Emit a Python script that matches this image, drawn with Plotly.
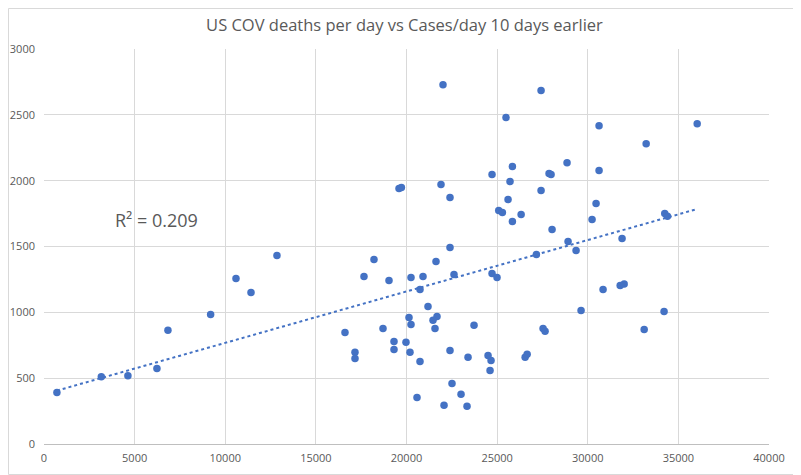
import numpy as np
import plotly.graph_objects as go

cases_10d_earlier = [712, 3162, 4630, 6231, 6838, 9194, 10592, 11420, 12853, 22014,
                     25491, 25843, 24719, 25712, 19586, 19719, 21903, 22400, 25602, 25088,
                     25290, 26324, 25843, 22400, 27424, 30624, 36038, 33223, 28858, 27864,
                     27975, 30624, 27424, 30458, 30237, 28031, 28914, 31893, 29355, 27167,
                     34249, 34397, 18206, 17654, 19034, 20248, 20911, 21628, 22621, 20745,
                     24719, 24995, 21186, 20138, 21683, 21462, 20248, 21573, 16606, 18703,
                     23725, 19310, 19972, 19310, 20193, 17158, 17158, 20745, 22400, 23394,
                     24499, 24664, 24609, 26545, 26656, 22511, 23008, 20579, 22070, 23339,
                     30844, 31788, 32009, 29631, 34211, 27534, 27645, 33113]
deaths_per_day = [392, 511, 518, 574, 863, 984, 1257, 1151, 1432, 2729,
                  2479, 2107, 2046, 1993, 1940, 1948, 1970, 1872, 1857, 1773,
                  1758, 1743, 1690, 1492, 2684, 2418, 2433, 2281, 2137, 2054,
                  2046, 2077, 1925, 1826, 1705, 1629, 1538, 1561, 1470, 1439,
                  1750, 1730, 1401, 1272, 1242, 1265, 1272, 1386, 1287, 1174,
                  1295, 1265, 1045, 961, 969, 939, 908, 878, 847, 878,
                  901, 779, 772, 718, 696, 696, 650, 627, 711, 658,
                  673, 635, 559, 658, 681, 460, 377, 354, 294, 286,
                  1174, 1204, 1216, 1014, 1007, 878, 857, 870]

title_text = "US COV deaths per day vs Cases/day 10 days earlier"
r2_text = "R² = 0.209"
x_ticks = [0, 5000, 10000, 15000, 20000, 25000, 30000, 35000, 40000]
y_ticks = [0, 500, 1000, 1500, 2000, 2500, 3000]

x = np.array(cases_10d_earlier, dtype=float)
y = np.array(deaths_per_day, dtype=float)
slope, intercept = np.polyfit(x, y, 1)
tx = np.array([x.min(), x.max()])
ty = slope * tx + intercept

blue = "#4472C4"
gray_txt = "#595959"
font_family = "Open Sans, Noto Sans, sans-serif"

fig = go.Figure()
fig.add_trace(go.Scatter(x=cases_10d_earlier, y=deaths_per_day, mode="markers",
                         marker=dict(color=blue, size=7.5, line=dict(width=0)),
                         showlegend=False, hoverinfo="x+y"))
fig.add_trace(go.Scatter(x=tx, y=ty, mode="lines",
                         line=dict(color=blue, width=2, dash="dot"),
                         showlegend=False, hoverinfo="skip"))

# page body has an 8px default margin
W, H = 793, 467
ml, mr, mt, mb = 36, 32, 41, 31
pw, ph = W - ml - mr, H - mt - mb

fig.add_annotation(x=6200, y=1700, xref="x", yref="y", text=r2_text, showarrow=False,
                   font=dict(size=18, color=gray_txt, family=font_family))

fig.add_shape(type="rect", xref="paper", yref="paper",
              x0=-(ml - 0.5) / pw, x1=1 + (mr - 0.5) / pw,
              y0=-(mb - 0.5) / ph, y1=1 + (mt - 0.5) / ph,
              line=dict(color="#d9d9d9", width=1), layer="below")

fig.update_layout(
    width=W, height=H,
    margin=dict(l=ml, r=mr, t=mt, b=mb, autoexpand=False),
    paper_bgcolor="white", plot_bgcolor="white",
    title=dict(text=title_text, x=0.5, xanchor="center", y=1 - 17 / H, yanchor="middle",
               font=dict(size=16.5, color=gray_txt, family=font_family)),
    font=dict(family=font_family, color=gray_txt, size=11),
    xaxis=dict(range=[0, 40000], tickvals=x_ticks, ticktext=[str(v) for v in x_ticks],
               showgrid=True, gridcolor="#d9d9d9", automargin=False,
               gridwidth=1, zeroline=False, showline=True, linecolor="#bfbfbf",
               linewidth=1, ticks="", ticklabelstandoff=4,
               tickfont=dict(size=11, color=gray_txt)),
    yaxis=dict(range=[0, 3000], tickvals=y_ticks, ticktext=[str(v) for v in y_ticks],
               showgrid=True, gridcolor="#d9d9d9", automargin=False,
               gridwidth=1, zeroline=False, showline=False, ticks="", ticklabelstandoff=8,
               tickfont=dict(size=11, color=gray_txt)),
)

fig.write_html("out.html")
